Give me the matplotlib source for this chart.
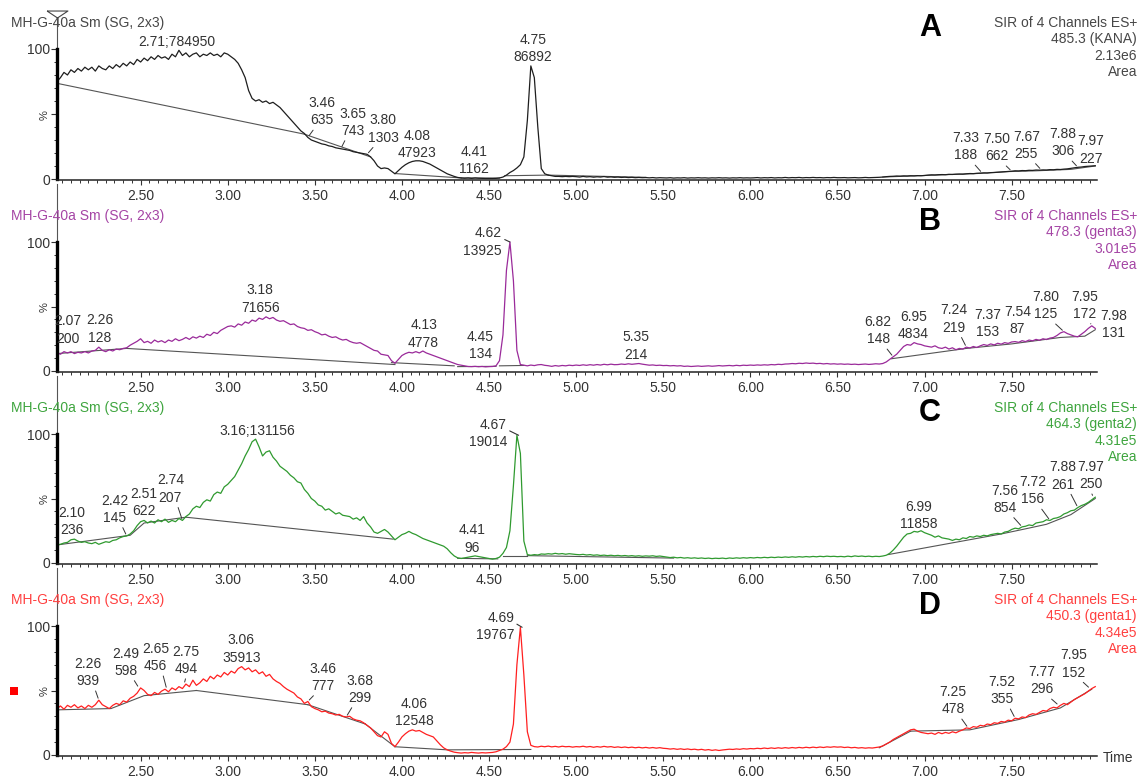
import numpy as np
import matplotlib.pyplot as plt
from matplotlib.patches import Rectangle
from matplotlib.ticker import MultipleLocator, FormatStrFormatter, FixedLocator

plt.rcParams['font.family'] = ['Liberation Sans', 'DejaVu Sans']
plt.rcParams['font.size'] = 10

# scan times (min), one scan every 0.02 min
time = np.round(np.arange(2.02, 7.99, 0.02), 2)

# smoothed SIR traces, % of the largest point in each channel (rows of 0.5 min)
kana = [
    75, 78, 82, 80, 84, 82, 85, 83, 86, 84, 86, 83, 87, 85, 84, 87, 85, 88, 86, 89, 87, 90, 88, 92, 90,
    93, 91, 94, 92, 95, 93, 94, 92, 96, 94, 99, 95, 97, 94, 96, 97, 94, 96, 95, 97, 95, 96, 94, 97, 96,
    94, 92, 89, 84, 78, 68, 62, 60, 61, 59, 60, 58, 59, 57, 55, 52, 49, 46, 43, 40, 37, 35, 32, 30, 29,
    28, 27, 26.5, 25.5, 25, 24, 23.5, 23, 22.5, 22, 21, 20.5, 20, 19.5, 19, 17, 14, 10, 8, 8.5, 8, 6, 4, 6.5, 9,
    11, 12.5, 13.5, 14, 14, 13.5, 12.5, 11.5, 10, 8.5, 7, 5.5, 4, 3, 2, 1.2, 0.8, 0.6, 0.8, 0.5, 0.8, 0.6, 0.5, 0.4, 0.4,
    0.4, 0.5, 0.8, 1.5, 3, 5, 6.5, 8.5, 11, 17, 45, 87, 78, 40, 8, 4, 3, 2.5, 2, 2, 1.8, 2, 1.8, 2, 1.8,
    1.5, 2, 1.6, 1.8, 1.4, 1.7, 1.5, 1.9, 1.4, 1.6, 1.3, 1.5, 1.2, 1.4, 1.1, 1.3, 1.0, 1.2, 1.0, 1.1, 0.9, 1.1, 0.8, 1.0, 0.9,
    0.8, 1.0, 0.7, 0.9, 0.8, 1.0, 0.7, 0.9, 0.8, 1.0, 0.8, 0.9, 0.7, 0.9, 0.8, 1.0, 0.8, 0.9, 0.7, 0.9, 0.8, 1.0, 0.8, 0.9, 0.8,
    0.9, 1.1, 0.8, 1.0, 0.9, 1.1, 0.8, 1.0, 0.9, 1.2, 0.9, 1.1, 1.0, 1.2, 0.9, 1.1, 1.0, 1.2, 1.0, 1.1, 0.9, 1.1, 1.0, 1.2, 1.0,
    1.0, 1.1, 0.9, 1.0, 1.1, 0.9, 1.0, 1.2, 1.0, 1.1, 1.2, 1.3, 1.5, 1.8, 2.0, 2.1, 2.3, 2.2, 2.4, 2.3, 2.5, 2.4, 2.6, 2.5, 2.7,
    3.0, 3.2, 3.1, 3.3, 3.4, 3.3, 3.6, 3.5, 3.7, 3.8, 3.7, 4.0, 4.2, 4.1, 4.4, 4.5, 4.7, 4.6, 4.9, 5.0, 5.2, 5.4, 5.6, 5.8, 6.0,
    6.3, 6.2, 6.5, 6.4, 6.7, 6.6, 6.9, 6.8, 7.0, 6.9, 7.2, 7.1, 7.4, 7.3, 7.6, 7.8, 8.2, 8.6, 9.0, 9.2, 9.6, 9.8, 10.0, 10.2,
]
genta3 = [
    14, 13, 15, 14, 15, 13.5, 14.5, 14, 15, 14, 15.5, 16, 18.5, 16, 15, 16.5, 15.5, 17, 16.5, 17.5, 18, 20, 21.5, 23, 25,
    22, 23, 21.5, 24, 22.5, 23.5, 22, 24, 23, 25, 23.5, 24.5, 26, 24.5, 26.5, 25.5, 27, 26, 28.5, 27.5, 30, 29, 31.5, 33, 34.5,
    35, 34, 36.5, 35.5, 38, 37, 39.5, 38.5, 41, 40, 42, 40.5, 41.5, 39.5, 38.5, 39, 37.5, 36, 36.5, 34.5, 33.5, 33, 31.5, 32, 30.5,
    29.5, 28, 28.5, 27, 26, 26.5, 25, 24, 24.5, 23, 22, 21.5, 22, 20.5, 19, 17.5, 16, 15.5, 13, 12.5, 12, 8, 6, 9, 12,
    13.5, 14.5, 14, 15, 14, 15.5, 14, 13, 12, 11, 10, 9, 8, 7, 6, 5, 4.5, 4, 3.5, 3.4, 3.6, 3.3, 3.5, 3.2, 3.4,
    3.5, 4, 8, 28, 78, 100, 70, 16, 5, 4.5, 4, 4.6, 4.2, 4.8, 5, 4.4, 4.1, 3.6, 4.2, 3.8, 4.3, 4.0, 4.5, 4.2, 4.6,
    4.3, 4.8, 4.4, 4.9, 4.5, 5.0, 4.6, 5.2, 4.8, 5.3, 4.9, 5.0, 5.4, 5.1, 5.6, 5.2, 5.5, 5.8, 5.3, 4.9, 4.5, 4.7, 4.3, 4.5, 4.2,
    4.3, 4.0, 4.2, 3.9, 4.1, 3.6, 3.8, 3.5, 3.7, 3.9, 3.6, 3.8, 4.0, 3.7, 3.9, 4.2, 3.9, 4.1, 4.3, 4.0, 4.4, 4.1, 4.5, 4.3, 4.6,
    4.4, 4.7, 4.5, 4.8, 4.6, 5.0, 4.8, 5.2, 5.0, 5.4, 5.5, 5.8, 5.6, 6.0, 5.8, 6.2, 5.9, 6.1, 5.7, 5.9, 5.5, 5.8, 5.4, 5.6, 5.3,
    5.5, 5.2, 5.4, 5.1, 5.3, 5.0, 5.2, 5.4, 5.1, 5.3, 5.6, 5.4, 5.8, 7, 9, 11, 13, 16, 19, 20.5, 20, 22, 21, 20.5, 19.5,
    19, 18.5, 19.5, 18, 17.5, 18.5, 17, 18, 16.5, 17.5, 17, 18.5, 17.8, 19, 18.2, 19.5, 20.5, 19.8, 21, 20.2, 21.5, 20.8, 22, 21.4, 22.5,
    22.8, 22.2, 23.5, 22.8, 24, 23.4, 24.5, 23.8, 25, 24.4, 25.5, 26, 27.5, 29.5, 30.5, 29, 28, 27, 26.5, 28.5, 30.5, 33, 35, 33,
]
genta2 = [
    14, 14.5, 15.5, 16, 18, 18.5, 17, 16, 16.5, 15.5, 15, 16, 14.5, 15.5, 16.5, 16, 17.5, 18, 19.5, 20.5, 21, 22.5, 25, 29, 32,
    33, 31, 32.5, 31, 33.5, 32, 34, 31.5, 33, 32, 34.5, 33, 36, 38, 42, 44, 43, 47, 49, 48, 53, 55, 54, 59, 61,
    64, 67, 72, 77, 83, 88, 94, 96, 90, 83, 86, 87, 82, 79, 75, 73, 71, 68, 66, 63, 62, 57, 54, 50, 48,
    45, 44, 41, 42, 40, 38, 39, 37, 36.5, 36, 34, 35, 33, 36, 31, 28, 24, 23, 24.5, 26, 24, 21, 18, 20, 22,
    23, 24.5, 23, 22, 20.5, 19, 18, 17, 16, 15, 14, 13, 11, 8, 5.5, 4, 3.5, 4, 4.5, 5, 5.5, 5, 4.5, 4, 3.5,
    3, 3.5, 4.5, 7.5, 12, 25, 60, 99, 85, 17, 6.5, 6, 6.5, 6.2, 7, 6.8, 7.2, 6.9, 7.5, 7, 7.3, 6.8, 7.2, 6.9, 6.6,
    6.4, 6.7, 6.2, 6.5, 6.0, 6.3, 5.8, 6.1, 5.7, 6.0, 5.6, 5.9, 5.5, 5.8, 5.4, 5.7, 5.3, 5.6, 5.2, 5.5, 5.3, 5.6, 5.1, 5.4, 5.0,
    4.6, 4.2, 4.5, 4.0, 4.3, 3.8, 4.1, 3.7, 4.0, 3.6, 3.9, 3.5, 3.8, 3.4, 3.7, 3.5, 3.8, 3.4, 3.9, 3.6, 4.0, 3.7, 4.1, 3.8, 4.2,
    3.9, 4.3, 4.0, 4.4, 4.1, 4.5, 4.2, 4.6, 4.3, 4.7, 4.4, 4.8, 4.5, 4.9, 4.6, 5.0, 4.7, 5.1, 4.8, 5.2, 4.9, 5.3, 5.0, 5.2, 4.9,
    5.1, 4.8, 5.3, 4.9, 5.5, 5.1, 5.4, 5.0, 5.3, 4.9, 5.2, 5.0, 5.4, 6.0, 7.5, 10, 13, 16.5, 20, 22.5, 23, 24.5, 24, 25, 23.5,
    22.5, 21.5, 20, 21, 19.5, 19, 18.5, 17.5, 18.5, 18, 19.5, 19, 20.5, 20, 21, 20.5, 21.5, 21, 22, 22.5, 23, 22.5, 24, 24.5, 26,
    27, 26.5, 28, 28.5, 29.5, 29, 31, 31.5, 32, 33.5, 33, 34.5, 35, 36, 38, 39, 40.5, 41, 43, 44.5, 45.5, 47, 49, 51,
]
genta1 = [
    36, 38, 35.5, 38.5, 37, 39, 36.5, 38, 36, 38.5, 37, 39, 42.5, 39, 37.5, 36, 38.5, 40, 39, 42, 41, 44, 45.5, 48, 52,
    50, 47, 46, 48.5, 47, 49.5, 51, 49, 52, 50.5, 53, 51.5, 55, 53, 58, 54, 56, 59, 57, 61, 59, 62, 60.5, 64, 62,
    65, 63.5, 67, 68.5, 66, 67.5, 64.5, 66, 63, 64.5, 61, 62.5, 59, 57, 55.5, 53, 51, 49.5, 48, 45, 43.5, 40, 41.5, 37.5, 36,
    35, 33.5, 34, 32.5, 32, 31, 31.5, 30, 29.5, 30, 28, 27, 26.5, 25, 23, 21, 18, 15, 14, 18, 16, 9, 6.5, 10, 14,
    16.5, 18.5, 19.5, 18.5, 19, 17.5, 16, 15, 14, 11, 8, 5.5, 4, 3, 2.2, 1.8, 1.5, 1.8, 1.6, 2, 1.7, 1.5, 1.8, 1.6, 1.8,
    2, 2.5, 3.5, 4.5, 6.5, 10, 24, 70, 99, 62, 18, 7.5, 6.5, 6.2, 6.8, 6.4, 6.9, 6.3, 6.7, 6.2, 6.8, 6.4, 6.6, 6.1, 6.5,
    6.3, 6.8, 6.2, 6.6, 6.0, 6.5, 6.1, 6.7, 6.2, 6.5, 5.9, 6.3, 5.8, 6.2, 5.7, 6.1, 5.6, 6.0, 5.5, 5.9, 5.4, 5.8, 5.3, 5.7, 5.2,
    5.0, 4.6, 4.9, 4.4, 4.8, 4.3, 4.7, 4.2, 4.5, 4.0, 4.4, 3.8, 4.2, 3.6, 4.0, 3.5, 3.9, 4.2, 4.5, 4.3, 4.7, 4.4, 4.9, 4.6, 5.0,
    4.8, 5.2, 4.9, 5.4, 5.0, 5.5, 5.1, 5.6, 5.2, 5.7, 5.3, 5.8, 5.4, 5.9, 5.5, 6.0, 5.6, 6.1, 5.7, 6.2, 5.8, 6.3, 6.0, 6.4, 6.1,
    6.3, 5.8, 6.1, 5.6, 5.9, 5.4, 5.7, 5.3, 5.6, 5.4, 5.8, 6.2, 7, 8.5, 10, 12, 13.5, 15, 16.5, 18, 19.5, 20, 18.5, 17.5, 17,
    16.5, 17, 16, 17.5, 16.5, 17.5, 16.8, 18, 17.2, 18.5, 19.5, 21, 20.5, 22, 21.5, 23, 22.5, 24, 23.5, 25, 24.5, 26, 25.5, 27, 26.5,
    28.5, 28, 29.5, 29, 31, 32, 31.5, 33, 34.5, 34, 36, 37, 36.5, 38.5, 40, 39, 41, 43, 44.5, 46, 47.5, 49.5, 51.5, 53,
]

# integrated peaks: retention time and area
rt_a = ["2.71", "3.46", "3.65", "3.80", "4.08", "4.41", "4.75", "7.33", "7.50", "7.67", "7.88", "7.97"]
area_a = ["784950", "635", "743", "1303", "47923", "1162", "86892", "188", "662", "255", "306", "227"]
rt_b = ["2.07", "2.26", "3.18", "4.13", "4.45", "4.62", "5.35", "6.82", "6.95", "7.24", "7.37", "7.54",
        "7.80", "7.95", "7.98"]
area_b = ["200", "128", "71656", "4778", "134", "13925", "214", "148", "4834", "219", "153", "87",
          "125", "172", "131"]
rt_c = ["2.10", "2.42", "2.51", "2.74", "3.16", "4.41", "4.67", "6.99", "7.56", "7.72", "7.88", "7.97"]
area_c = ["236", "145", "622", "207", "131156", "96", "19014", "11858", "854", "156", "261", "250"]
rt_d = ["2.26", "2.49", "2.65", "2.75", "3.06", "3.46", "3.68", "4.06", "4.69", "7.25", "7.52", "7.77", "7.95"]
area_d = ["939", "598", "456", "494", "35913", "777", "299", "12548", "19767", "478", "355", "296", "152"]

# integration baselines (time, %)
base_a = [[(2.02, 73.6), (3.44, 34.5)], [(3.44, 34.5), (3.82, 17)], [(3.96, 4.2), (4.34, 0.8)],
          [(4.34, 0.8), (4.56, 0.7)], [(4.59, 2.5), (4.84, 3)], [(4.84, 3), (5.40, 1.3)],
          [(6.76, 1.5), (7.30, 4.2), (7.48, 5.7), (7.64, 6.3), (7.84, 7.4), (7.98, 10)]]
base_b = [[(2.02, 13.5), (2.42, 17.5)], [(2.42, 17.5), (3.96, 5)], [(3.94, 6.5), (4.30, 4)],
          [(4.32, 3.4), (4.54, 3.6)], [(4.56, 4), (4.70, 4.3)],
          [(6.81, 9.5), (7.24, 17.5), (7.50, 21), (7.78, 26), (7.92, 27), (7.98, 32)]]
base_c = [[(2.02, 14), (2.44, 21.5), (2.52, 31), (2.76, 35.5)], [(2.76, 35.5), (3.95, 18.5)],
          [(4.32, 3.6), (4.55, 3.2)], [(4.58, 5.7), (4.72, 5.7)], [(4.72, 5.7), (5.56, 3.8)],
          [(6.79, 6.5), (7.44, 22.5), (7.58, 26.5), (7.70, 30), (7.84, 37.5), (7.98, 50)]]
base_d = [[(2.02, 35), (2.33, 36), (2.52, 46), (2.82, 50)], [(2.82, 50), (3.46, 39)],
          [(3.46, 39), (3.79, 24)], [(3.79, 24), (3.96, 6.4)], [(3.96, 6.4), (4.26, 4), (4.74, 4.3)],
          [(6.74, 5.6), (6.92, 18.5)], [(6.92, 18.5), (7.26, 19.5), (7.54, 27.5), (7.78, 36.5), (7.96, 51)]]

channel = ["485.3 (KANA)", "478.3 (genta3)", "464.3 (genta2)", "450.3 (genta1)"]
total = ["2.13e6", "3.01e5", "4.31e5", "4.34e5"]
letters = ["A", "B", "C", "D"]

# label placement: (dx px, height of text bottom above the point px, kind)
place_a = [(0, 4, 'inline'), (14, 13, 'lead'), (12, 13.5, 'lead'), (16, 12.6, 'lead'), (1, 4, 'up'),
           (0.5, 4.7, 'up'), (0.5, 4.5, 'up'), (-16, 13.5, 'lead'), (-15, 11, 'lead'), (-15, 12, 'lead'),
           (-15, 12, 'lead'), (-3, 3, 'up')]
place_b = [(2, 9, 'up'), (1, 5.5, 'up'), (1, 6.5, 'up'), (-1, 4.5, 'up'), (0, 8, 'up'), (-8, 0, 'side'),
           (-1.6, 5, 'up'), (-15, 13.5, 'lead'), (-2.5, 4.3, 'up'), (-13, 15.4, 'lead'), (-1.4, 8, 'up'),
           (-1, 9, 'up'), (-18, 13.4, 'lead'), (-5, 8, 'lead'), (18, -8.6, 'up')]
place_c = [(1.3, 5.5, 'up'), (-12, 14, 'lead'), (1.5, 5.4, 'up'), (-12, 18.7, 'lead'), (1.3, 4, 'inline'),
           (-1, 4.2, 'up'), (-11.7, 2, 'side'), (-4, 2.5, 'up'), (-17.5, 15, 'lead'), (-17, 17, 'lead'),
           (-15, 19, 'lead'), (-3, 9, 'lead')]
place_d = [(-11, 15, 'lead'), (-13, 13, 'lead'), (-11, 19, 'lead'), (2, 11, 'lead'), (3, 7, 'up'),
           (15, 11.5, 'lead'), (14, 15, 'lead'), (2, 5, 'up'), (-8, 1, 'side'), (-15, 14.6, 'lead'),
           (-13, 15, 'lead'), (-17, 12, 'lead'), (-16.5, 12, 'lead')]

traces = [kana, genta3, genta2, genta1]
rts = [rt_a, rt_b, rt_c, rt_d]
areas = [area_a, area_b, area_c, area_d]
bases = [base_a, base_b, base_c, base_d]
places = [place_a, place_b, place_c, place_d]

line_col = ['#1e1e1e', '#9a2a9a', '#2f9a2f', '#ff2020']
head_col = ['#474747', '#a545a5', '#3fa53f', '#ff4040']
txt_col = '#333333'

W, H = 1144, 778
PT = 72 / 100
zero_px = [179, 371, 563, 755]
full_px = [49, 242, 434, 626]
top_px = [14, 184, 376, 568]


def fx(px):
    return px / W


def fy(py):
    return 1 - py / H


fig = plt.figure(figsize=(W / 100, H / 100), dpi=100)

for i in range(4):
    y = np.asarray(traces[i], dtype=float)
    assert len(y) == len(time)
    p0, p100, ptop = zero_px[i], full_px[i], top_px[i]
    s = (p0 - p100) / 100
    ylo = -1.0
    yhi = (p0 - ptop) / s
    pbot = p0 - ylo * s
    ax = fig.add_axes([fx(57), fy(pbot), fx(1097) - fx(57), (pbot - ptop) / H])
    ax.patch.set_visible(False)
    ax.set_xlim(2.02, 7.99)
    ax.set_ylim(ylo, yhi)

    for seg in bases[i]:
        bx, by = zip(*seg)
        ax.plot(bx, by, color='#555555', lw=0.8, zorder=1)
    ax.plot(time, y, color=line_col[i], lw=0.9, zorder=2)

    # axes styling
    for side in ('top', 'right'):
        ax.spines[side].set_visible(False)
    ax.spines['bottom'].set_color('#222222')
    ax.spines['bottom'].set_linewidth(1.1)
    ax.spines['left'].set_bounds(0, 100)
    ax.spines['left'].set_linewidth(2.4)
    ax.spines['left'].set_color('black')
    ax.axvline(2.02, ymin=(100 - ylo) / (yhi - ylo), ymax=1, color='#555555', lw=0.8, clip_on=False)

    ax.xaxis.set_major_locator(MultipleLocator(0.5))
    ax.xaxis.set_major_formatter(FormatStrFormatter('%.2f'))
    ax.xaxis.set_minor_locator(MultipleLocator(0.05))
    ax.tick_params(axis='x', which='major', length=3.6, width=0.8, pad=3, colors=txt_col, labelsize=10)
    ax.tick_params(axis='x', which='minor', length=2.2, width=0.7, colors=txt_col)
    ax.set_yticks([0, 50, 100])
    ax.set_yticklabels(['0', '%', '100'])
    ax.yaxis.set_minor_locator(FixedLocator([10, 20, 30, 40, 60, 70, 80, 90]))
    ax.tick_params(axis='y', which='major', length=4, width=0.8, pad=1, colors=txt_col, labelsize=10)
    ax.tick_params(axis='y', which='minor', length=2, width=0.7, colors=txt_col)
    ax.get_yticklabels()[1].set_rotation(90)
    ax.get_yticklabels()[1].set_fontsize(8)

    # peak labels
    for rt, area, (dx, up, kind) in zip(rts[i], areas[i], places[i]):
        t = float(rt)
        ya = y[np.abs(time - t) <= 0.011].max()
        kw = dict(xy=(t, ya), textcoords='offset points', fontsize=10, color=txt_col,
                  linespacing=1.3, annotation_clip=False, zorder=3)
        if kind == 'inline':
            ax.annotate(f"{rt};{area}", xytext=(dx * PT, (up - 3) * PT), ha='center', va='bottom', **kw)
        elif kind == 'side':
            ax.annotate(f"{rt}\n{area}", xytext=(dx * PT, up * PT), ha='right', va='center',
                        arrowprops=dict(arrowstyle='-', color=txt_col, lw=0.8, shrinkA=0, shrinkB=0,
                                        relpos=(1, 0.62)), **kw)
        else:
            arrow = None
            if kind == 'lead':
                rx = 0.75 if dx < -4 else (0.25 if dx > 4 else 0.5)
                arrow = dict(arrowstyle='-', color=txt_col, lw=0.7, shrinkA=0, shrinkB=1.5, relpos=(rx, 0))
            ax.annotate(f"{rt}\n{area}", xytext=(dx * PT, (up - 3) * PT), ha='center', va='bottom',
                        arrowprops=arrow, **kw)

    # headers
    fig.text(fx(11), fy(p100 - 26), "MH-G-40a Sm (SG, 2x3)", ha='left', va='center',
             color=head_col[i], fontsize=10)
    for k, line in enumerate(["SIR of 4 Channels ES+", channel[i], total[i], "Area"]):
        fig.text(fx(1137), fy(p100 - 26 + k * 16.4), line, ha='right', va='center',
                 color=head_col[i], fontsize=10)
    fig.text(fx(930), fy(p100 - 20.5), letters[i], ha='center', va='center',
             fontsize=22, fontweight='bold', color='black')

    if i == 0:
        tri = [(-1.5, 0.5), (1.5, 0.5), (0, -0.5), (-1.5, 0.5)]
        ax.plot([0], [1], transform=ax.transAxes, marker=tri, ms=15, mfc='white',
                mec='#444444', mew=0.8, clip_on=False, zorder=4)

fig.text(fx(1103), fy(758), "Time", ha='left', va='center', color=txt_col, fontsize=10)
fig.add_artist(Rectangle((fx(10), fy(695)), 8 / W, 8 / H, transform=fig.transFigure,
                         color='#ff0000', lw=0))

fig.savefig("out.png", dpi=100, facecolor='white')
